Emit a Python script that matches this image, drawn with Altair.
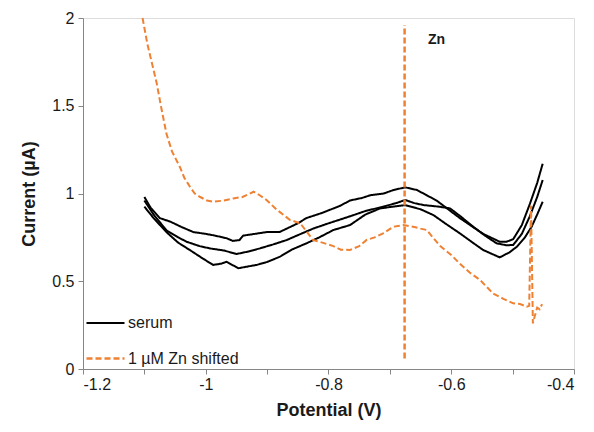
import altair as alt
import pandas as pd

# ---- data ----
serum_a_x = [-1.100,-1.090,-1.075,-1.058,-1.040,-1.020,-1.000,-0.985,-0.966,-0.956,-0.945,-0.939,-0.920,-0.901,-0.880,-0.868,-0.850,-0.836,-0.810,-0.781,-0.765,-0.745,-0.732,-0.710,-0.694,-0.675,-0.656,-0.640,-0.624,-0.605,-0.586,-0.565,-0.548,-0.530,-0.521,-0.510,-0.499,-0.485,-0.472,-0.460,-0.451]
serum_a_y = [0.98,0.92,0.86,0.84,0.81,0.78,0.77,0.76,0.745,0.73,0.735,0.76,0.77,0.78,0.78,0.80,0.83,0.86,0.89,0.93,0.96,0.975,0.99,1.00,1.02,1.035,1.02,0.99,0.96,0.91,0.86,0.81,0.77,0.74,0.725,0.725,0.74,0.82,0.94,1.06,1.17]

serum_b_x = [-1.100,-1.085,-1.064,-1.045,-1.031,-1.010,-0.993,-0.970,-0.950,-0.930,-0.912,-0.890,-0.868,-0.845,-0.825,-0.800,-0.765,-0.740,-0.711,-0.690,-0.675,-0.660,-0.645,-0.620,-0.602,-0.585,-0.564,-0.545,-0.526,-0.510,-0.499,-0.485,-0.472,-0.460,-0.451]
serum_b_y = [0.96,0.88,0.79,0.75,0.725,0.70,0.687,0.675,0.655,0.67,0.687,0.71,0.735,0.77,0.80,0.83,0.87,0.90,0.925,0.945,0.963,0.945,0.934,0.925,0.915,0.87,0.81,0.76,0.716,0.705,0.707,0.77,0.87,0.98,1.077]

serum_c_x = [-1.100,-1.085,-1.064,-1.045,-1.026,-1.005,-0.988,-0.975,-0.966,-0.947,-0.930,-0.917,-0.900,-0.879,-0.860,-0.836,-0.815,-0.792,-0.765,-0.740,-0.716,-0.695,-0.675,-0.650,-0.629,-0.610,-0.586,-0.565,-0.548,-0.530,-0.521,-0.505,-0.493,-0.480,-0.469,-0.460,-0.451]
serum_c_y = [0.925,0.86,0.78,0.72,0.678,0.63,0.593,0.60,0.611,0.574,0.585,0.593,0.61,0.64,0.68,0.716,0.75,0.792,0.82,0.88,0.915,0.925,0.934,0.91,0.877,0.83,0.773,0.72,0.678,0.65,0.636,0.665,0.697,0.75,0.811,0.88,0.953]

zn_x = [-1.103,-1.095,-1.080,-1.072,-1.064,-1.055,-1.042,-1.035,-1.026,-1.018,-1.009,-0.998,-0.988,-0.970,-0.955,-0.940,-0.922,-0.912,-0.901,-0.885,-0.863,-0.846,-0.835,-0.825,-0.810,-0.792,-0.780,-0.765,-0.750,-0.738,-0.725,-0.711,-0.694,-0.678,-0.662,-0.650,-0.640,-0.630,-0.618,-0.600,-0.586,-0.570,-0.553,-0.540,-0.532,-0.515,-0.499,-0.488,-0.477,-0.473,-0.470,-0.467,-0.464,-0.460,-0.456,-0.452]
zn_y = [2.00,1.85,1.63,1.48,1.34,1.24,1.15,1.09,1.04,1.00,0.98,0.96,0.953,0.96,0.972,0.98,1.01,0.99,0.963,0.91,0.85,0.83,0.78,0.735,0.72,0.70,0.68,0.678,0.70,0.735,0.75,0.773,0.811,0.82,0.811,0.80,0.792,0.75,0.70,0.65,0.60,0.55,0.507,0.46,0.43,0.40,0.374,0.37,0.355,0.36,0.93,0.26,0.30,0.35,0.34,0.37]

series_names = ["serum", "1 µM Zn shifted"]
series_colors = ["#000000", "#EF8133"]

marker_x = [-0.676]
marker_y = [0.06]
marker_y2 = [1.96]
marker_label = ["Zn"]
label_x = [-0.638]
label_y = [1.875]

x_ticks = [-1.2, -1.1, -1.0, -0.9, -0.8, -0.7, -0.6, -0.5, -0.4]
y_ticks = [0, 0.5, 1.0, 1.5, 2.0]

# ---- build tables ----
rows = []
for cid, xs, ys in [("a", serum_a_x, serum_a_y), ("b", serum_b_x, serum_b_y), ("c", serum_c_x, serum_c_y)]:
    for i, (x, y) in enumerate(zip(xs, ys)):
        rows.append({"x": x, "y": y, "series": series_names[0], "curve": cid, "order": i})
for i, (x, y) in enumerate(zip(zn_x, zn_y)):
    rows.append({"x": x, "y": y, "series": series_names[1], "curve": "zn", "order": i})
df = pd.DataFrame(rows)

marker_df = pd.DataFrame({"x": marker_x, "y": marker_y, "y2": marker_y2})
label_df = pd.DataFrame({"x": label_x, "y": label_y, "t": marker_label})

FONT = "Liberation Sans"
GRAY = "#868686"
TXT = "#1a1a1a"

xscale = alt.Scale(domain=[-1.2, -0.4], nice=False, zero=False)
yscale = alt.Scale(domain=[0, 2], nice=False)

common_axis = dict(
    grid=False, domainColor=GRAY, tickColor=GRAY, labelColor=TXT, titleColor=TXT,
    labelFont=FONT, titleFont=FONT, labelFontSize=16, titleFontSize=18,
    titleFontWeight="bold", tickSize=5,
)
x_axis = alt.Axis(
    title="Potential (V)", values=x_ticks,
    labelExpr="abs(round(datum.value*10)) % 2 == 0 ? '' + datum.value : ''",
    labelPadding=2, titlePadding=9, **common_axis,
)
y_axis = alt.Axis(
    title="Current (µA)", values=y_ticks,
    labelExpr="'' + datum.value",
    labelPadding=4, titlePadding=13, **common_axis,
)

legend_kw = dict(title=None, orient="bottom-left", offset=2,
                 symbolType="stroke", symbolSize=1444,
                 symbolStrokeWidth=2.5, labelFontSize=16,
                 labelFont=FONT, labelColor=TXT,
                 rowPadding=7, labelOffset=2)

lines = alt.Chart(df).mark_line(strokeWidth=2).encode(
    x=alt.X("x:Q", scale=xscale, axis=x_axis),
    y=alt.Y("y:Q", scale=yscale, axis=y_axis),
    color=alt.Color("series:N", scale=alt.Scale(domain=series_names, range=series_colors),
                    legend=alt.Legend(**legend_kw)),
    strokeDash=alt.StrokeDash("series:N", scale=alt.Scale(domain=series_names, range=[[1, 0], [6, 3]]),
                              legend=alt.Legend(**legend_kw)),
    strokeWidth=alt.StrokeWidth("series:N", scale=alt.Scale(domain=series_names, range=[2, 2.5]), legend=None),
    detail="curve:N",
    order="order:Q",
)

rule = alt.Chart(marker_df).mark_rule(color="#EF8133", strokeWidth=2.5, strokeDash=[6, 3]).encode(
    x=alt.X("x:Q", scale=xscale),
    y=alt.Y("y:Q", scale=yscale),
    y2="y2:Q",
)

text = alt.Chart(label_df).mark_text(font=FONT, fontSize=14, fontWeight="bold", align="left",
                                     baseline="middle", color=TXT).encode(
    x=alt.X("x:Q", scale=xscale),
    y=alt.Y("y:Q", scale=yscale),
    text="t:N",
)

chart = alt.layer(lines, rule, text).properties(
    width=491, height=351,
    autosize=alt.AutoSizeParams(type="none"),
    padding={"left": 75, "top": 10, "right": 12, "bottom": 60},
).configure_view(
    stroke=GRAY, strokeWidth=1, fill="#fdfdfe"
).configure(background="white")

chart.save("out.html", embed_options={"renderer": "svg", "actions": False})
